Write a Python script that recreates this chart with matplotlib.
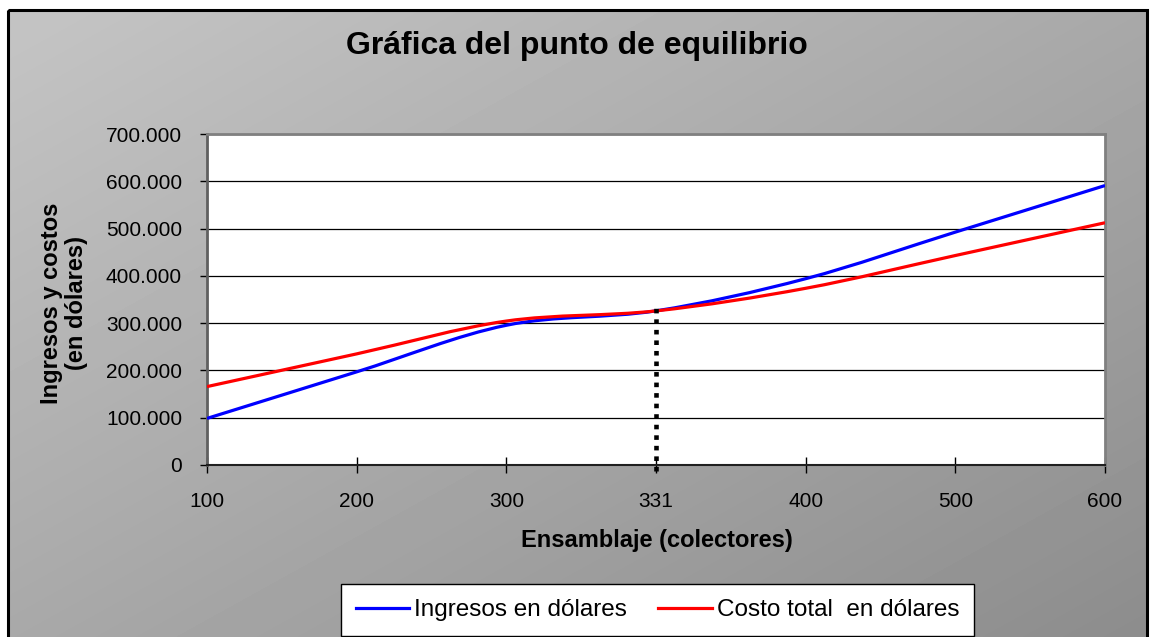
import matplotlib
matplotlib.use("Agg")
import matplotlib.pyplot as plt
import numpy as np
from matplotlib.lines import Line2D
from matplotlib.patches import PathPatch, Rectangle
from matplotlib.path import Path
from matplotlib.ticker import FuncFormatter

# values
unidades = ["100", "200", "300", "331", "400", "500", "600"]
ingresos = [98500, 197000, 295500, 326000, 394000, 492500, 591000]
costo_total = [165800, 235000, 304400, 325900, 373700, 443000, 512300]
punto_equilibrio = "331"
altura_equilibrio = 334000
y_ticks = [0, 100000, 200000, 300000, 400000, 500000, 600000, 700000]

W, H = 1151, 637


def smooth_path(xs, ys):
    """Excel-like smoothed line: cubic bezier with catmull-rom control points"""
    pts = np.column_stack([xs, ys]).astype(float)
    n = len(pts)
    verts = [pts[0]]
    codes = [Path.MOVETO]
    for i in range(n - 1):
        p0 = pts[max(i - 1, 0)]
        p1 = pts[i]
        p2 = pts[i + 1]
        p3 = pts[min(i + 2, n - 1)]
        c1 = p1 + (p2 - p0) / 6.0
        c2 = p2 - (p3 - p1) / 6.0
        verts += [c1, c2, p2]
        codes += [Path.CURVE4] * 3
    return Path(verts, codes)


fig = plt.figure(figsize=(W / 100, H / 100), dpi=100)
fig.patch.set_facecolor("white")
plt.rcParams['font.family'] = ['Liberation Sans', 'DejaVu Sans']

# gray gradient background with black frame
bg = fig.add_axes([0, 0, 1, 1])
bg.set_xlim(0, W)
bg.set_ylim(H, 0)
bg.axis("off")
u, v = np.meshgrid(np.linspace(0, 1, 300), np.linspace(0, 1, 200))
shade = 0.77 - 0.11 * u - 0.11 * v
bg.imshow(shade, cmap="gray", vmin=0, vmax=1, extent=[8, 1147, H + 5, 10],
          aspect="auto", interpolation="bilinear")
bg.add_patch(Rectangle((8, 10), 1139, H, fill=False, edgecolor="black", lw=2.2))

ax = fig.add_axes([207 / W, 1 - 465 / H, 898 / W, 331 / H])
ax.set_facecolor("white")

xs = np.arange(len(unidades))
ax.add_patch(PathPatch(smooth_path(xs, ingresos), fill=False, edgecolor="#0000ff", lw=2.3, zorder=3))
ax.add_patch(PathPatch(smooth_path(xs, costo_total), fill=False, edgecolor="#ff0000", lw=2.3, zorder=3))

xe = unidades.index(punto_equilibrio)
ax.vlines(xe, -12000, altura_equilibrio, colors="black", lw=3.3,
          linestyles=(0, (1.0, 1.3)), zorder=4, clip_on=False)

ax.set_xlim(0, len(unidades) - 1)
ax.set_ylim(0, 700000)
ax.set_xticks(xs)
ax.set_xticklabels(unidades)
ax.set_yticks(y_ticks)
ax.yaxis.set_major_formatter(FuncFormatter(lambda v, p: f"{v:,.0f}".replace(",", ".")))
ax.grid(axis="y", color="black", lw=0.9)
ax.set_axisbelow(True)

ax.tick_params(axis="x", direction="inout", length=11, width=1, labelsize=15, pad=14)
ax.tick_params(axis="y", direction="out", length=5, width=1, labelsize=15, pad=13)
for s in ["left", "top", "right"]:
    ax.spines[s].set_color("#808080")
    ax.spines[s].set_linewidth(2)
ax.spines["left"].set_color("#606060")
ax.spines["bottom"].set_color("#202020")
ax.spines["bottom"].set_linewidth(1.5)

fig.text(577 / W, 1 - 46 / H, "Gráfica del punto de equilibrio", ha="center", va="center",
         fontsize=23, fontweight="bold")
fig.text(657 / W, 1 - 540 / H, "Ensamblaje (colectores)", ha="center", va="center",
         fontsize=17, fontweight="bold")
fig.text(64 / W, 1 - 303 / H, "Ingresos y costos\n(en dólares)", ha="center", va="center",
         rotation=90, fontsize=17, fontweight="bold", multialignment="center", linespacing=1.15)

handles = [Line2D([], [], color="#0000ff", lw=2.3), Line2D([], [], color="#ff0000", lw=2.3)]
leg = fig.legend(handles, ["Ingresos en dólares", "Costo total  en dólares"], ncol=2,
                 loc="center", bbox_to_anchor=(657.5 / W, 1 - 610 / H), fontsize=17.5,
                 frameon=True, fancybox=False, edgecolor="black", framealpha=1,
                 handlelength=2.2, handletextpad=0.2, columnspacing=1.3,
                 borderpad=0.6, borderaxespad=0)
leg.get_frame().set_linewidth(1)

fig.savefig("out.png", dpi=100)
